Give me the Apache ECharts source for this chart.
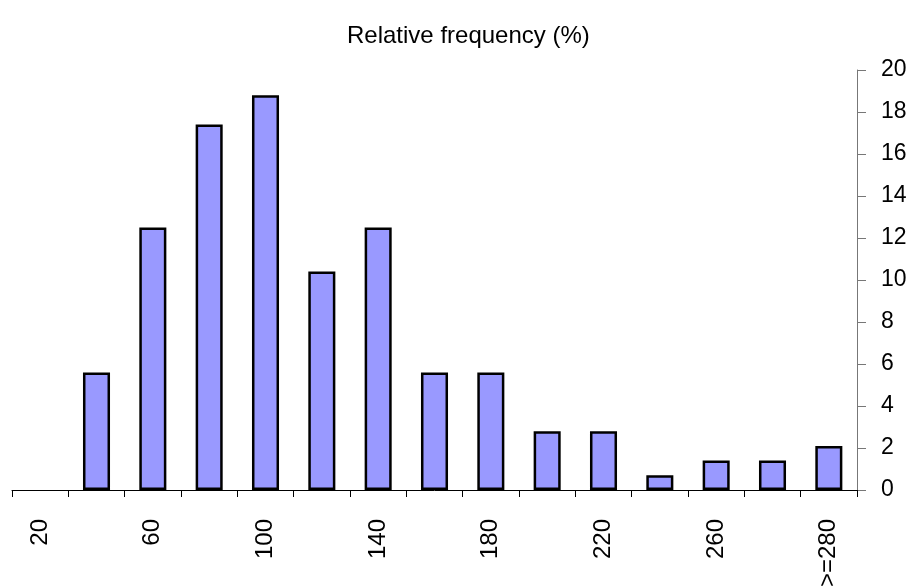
<!DOCTYPE html>
<html>
<head>
<meta charset="UTF-8">
<title>Relative frequency</title>
<script src="https://cdn.jsdelivr.net/npm/echarts@6/dist/echarts.min.js"></script>
<style>
  html, body { margin: 0; padding: 0; background: #fff; }
  #chart { width: 915px; height: 586px; }
</style>
</head>
<body>
<div id="chart"></div>
<script>
// class labels (upper bounds) and relative frequency per class, in %
var classes = ['20', '40', '60', '80', '100', '120', '140', '160', '180', '200', '220', '240', '260', '280', '>=280'];
var freq = [0, 5.6, 12.5, 17.4, 18.8, 10.4, 12.5, 5.6, 5.6, 2.8, 2.8, 0.7, 1.4, 1.4, 2.1];
var yTicks = { min: 0, max: 20, step: 2 };

var font = 'Liberation Sans, Arial, sans-serif';
var chart = echarts.init(document.getElementById('chart'));

// empty classes get no outline (excel draws nothing there)
var barData = freq.map(function (v) {
    return v === 0 ? { value: v, itemStyle: { borderWidth: 0 } } : v;
});

var option = {
    animation: false,
    title: {
        text: 'Relative frequency (%)',
        left: 342,
        top: 19,
        textStyle: { fontFamily: font, fontSize: 24, fontWeight: 'normal', color: '#000' }
    },
    grid: { left: 12, right: 58, top: 70, bottom: 96, outerBoundsMode: 'none', containLabel: false },
    xAxis: {
        type: 'category',
        data: classes,
        boundaryGap: true,
        axisLine: { lineStyle: { color: '#000', width: 1 } },
        axisTick: { show: true, interval: 0, length: 7, lineStyle: { color: '#000' } },
        axisLabel: {
            interval: 1,
            rotate: 90,
            margin: 29,
            fontFamily: font,
            fontSize: 24,
            color: '#000'
        },
        splitLine: { show: false }
    },
    yAxis: {
        type: 'value',
        position: 'right',
        min: yTicks.min,
        max: yTicks.max,
        interval: yTicks.step,
        axisLine: { show: true, lineStyle: { color: '#777', width: 1 } },
        axisTick: { show: true, inside: false, length: 9, lineStyle: { color: '#777' } },
        axisLabel: { margin: 24, fontFamily: font, fontSize: 23, color: '#000' },
        splitLine: { show: false }
    },
    series: [{
        type: 'bar',
        data: barData,
        barWidth: '48%',
        itemStyle: { color: '#9999ff', borderColor: '#000', borderWidth: 2.5 }
    }]
};
chart.setOption(option);
</script>
</body>
</html>
